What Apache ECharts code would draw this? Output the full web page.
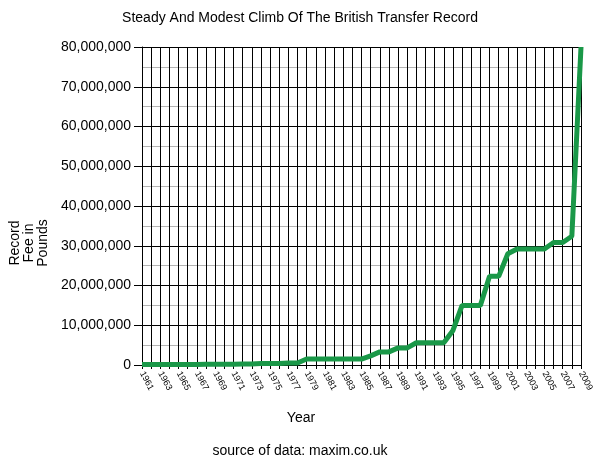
<!DOCTYPE html>
<html>
<head>
<meta charset="utf-8">
<script src="https://cdn.jsdelivr.net/npm/echarts@6/dist/echarts.min.js"></script>
<style>html,body{margin:0;padding:0;background:#fff;}#c{width:600px;height:463px;}</style>
</head>
<body>
<div id="c"></div>
<script>
const years = [1961,1962,1963,1964,1965,1966,1967,1968,1969,1970,1971,1972,1973,1974,1975,1976,1977,1978,1979,1980,1981,1982,1983,1984,1985,1986,1987,1988,1989,1990,1991,1992,1993,1994,1995,1996,1997,1998,1999,2000,2001,2002,2003,2004,2005,2006,2007,2008,2009];
const recordFee = [100000,115000,115000,115000,115000,110000,150000,165000,165000,200000,220000,250000,250000,350000,350000,350000,500000,500000,1500000,1500000,1500000,1500000,1500000,1500000,1500000,2300000,3300000,3300000,4300000,4300000,5600000,5600000,5600000,5600000,8700000,15000000,15000000,15000000,22300000,22300000,28000000,29200000,29200000,29200000,29200000,30800000,30800000,32400000,80000000];
const yTicks = [0,10000000,20000000,30000000,40000000,50000000,60000000,70000000,80000000];
const titleText = 'Steady And Modest Climb Of The British Transfer Record';
const xName = 'Year';
const yName = 'Record\nFee in\nPounds';
const sourceText = 'source of data: maxim.co.uk';

const FONT = 'Liberation Sans, Arial, sans-serif';
const chart = echarts.init(document.getElementById('c'));
chart.setOption({
  backgroundColor: '#fff',
  animation: false,
  grid: {left: 142, right: 19, top: 47, bottom: 98},
  xAxis: {
    type: 'value', min: years[0], max: years[years.length-1], interval: 1,
    axisLine: {lineStyle: {color: '#000', width: 1}},
    axisTick: {show: true, length: 4, lineStyle: {color: '#000'}},
    splitLine: {show: true, lineStyle: {color: '#000', width: 1}},
    axisLabel: {
      rotate: -62, fontSize: 9, color: '#000', fontFamily: FONT, margin: 7,
      formatter: v => (v % 2 === 1 ? String(v) : '')
    }
  },
  yAxis: {
    type: 'value', min: yTicks[0], max: yTicks[yTicks.length-1], interval: 10000000,
    axisLine: {show: true, lineStyle: {color: '#000'}},
    axisTick: {show: true, length: 8, lineStyle: {color: '#000'}},
    splitLine: {show: true, lineStyle: {color: '#000', width: 1}},
    minorTick: {show: false, splitNumber: 2},
    minorSplitLine: {show: true, lineStyle: {color: '#b3b3b3', width: 1}},
    axisLabel: {
      fontSize: 14, color: '#000', fontFamily: FONT, margin: 11,
      formatter: v => v.toLocaleString('en-US')
    }
  },
  series: [{
    type: 'line',
    data: years.map((y, i) => [y, recordFee[i]]),
    showSymbol: false,
    lineStyle: {color: '#1a9848', width: 5},
    itemStyle: {color: '#1a9848'}
  }],
  graphic: [
    {type: 'text', x: 300, y: 18, style: {text: titleText, font: '14px ' + FONT, fill: '#000', align: 'center', verticalAlign: 'middle'}},
    {type: 'text', x: 301, y: 418, style: {text: xName, font: '14px ' + FONT, fill: '#000', align: 'center', verticalAlign: 'middle'}},
    {type: 'text', x: 300, y: 451, style: {text: sourceText, font: '14px ' + FONT, fill: '#000', align: 'center', verticalAlign: 'middle'}},
    {type: 'text', x: 29, y: 243, rotation: Math.PI/2, style: {text: yName, font: '14px ' + FONT, fill: '#000', align: 'center', verticalAlign: 'middle', lineHeight: 14}}
  ]
});
</script>
</body>
</html>
